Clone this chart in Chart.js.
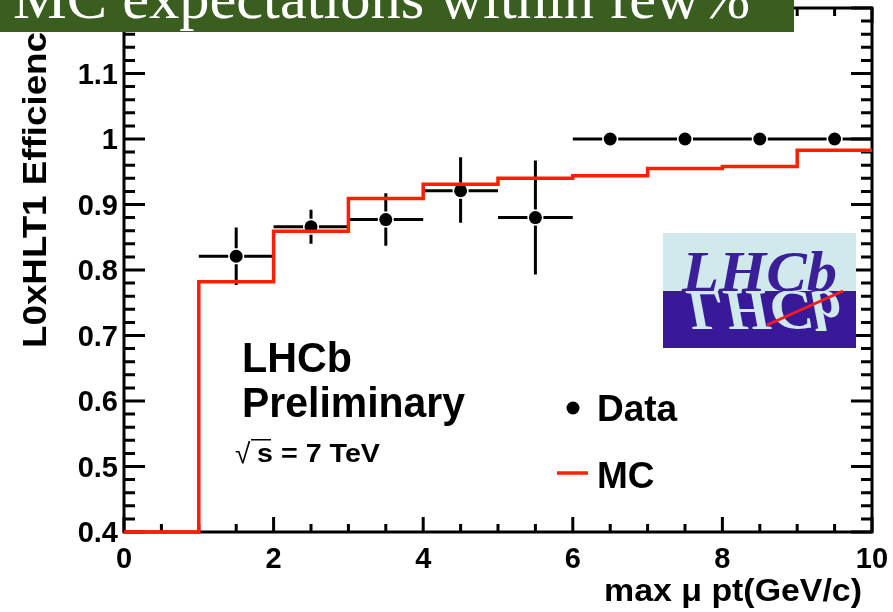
<!DOCTYPE html>
<html>
<head>
<meta charset="utf-8">
<script src="https://cdn.jsdelivr.net/npm/chart.js@4.4.0/dist/chart.umd.min.js"></script>
<style>
  html, body { margin: 0; padding: 0; background: #fff; }
  #wrap { width: 893px; height: 612px; }
</style>
</head>
<body>
<div id="wrap"><canvas id="eff_chart" width="893" height="612"></canvas></div>
<script>
// bin edges in max mu pt (GeV/c)
const binEdges = [0, 1, 2, 3, 4, 5, 6, 7, 8, 9, 10];
// MC efficiency, one value per bin
const mcEff = [0.400, 0.782, 0.859, 0.909, 0.931, 0.940, 0.944, 0.955, 0.958, 0.983];
// data points (bin centres) with asymmetric errors
const dataPt = [1.5, 2.5, 3.5, 4.5, 5.5, 6.5, 7.5, 8.5, 9.5];
const dataEff = [0.821, 0.866, 0.877, 0.921, 0.880, 1.0, 1.0, 1.0, 1.0];
const dataErrUp = [0.044, 0.026, 0.040, 0.051, 0.087, 0, 0, 0, 0];
const dataErrDown = [0.044, 0.026, 0.040, 0.049, 0.087, 0, 0, 0, 0];
const binHalfWidth = 0.5;

// axis tick labels
const xTickLabels = ['0', '2', '4', '6', '8', '10'];
const yTickLabels = ['0.4', '0.5', '0.6', '0.7', '0.8', '0.9', '1', '1.1'];

const SANS = '"Liberation Sans", Arial, Helvetica, sans-serif';
const SERIF = '"Liberation Serif", "DejaVu Serif", serif';

// step points for the MC histogram
const mcPoints = mcEff.map((v, i) => ({ x: binEdges[i], y: v }));
mcPoints.push({ x: binEdges[binEdges.length - 1], y: mcEff[mcEff.length - 1] });
const dataPoints = dataPt.map((p, i) => ({ x: p, y: dataEff[i] }));

// draw text squeezed/stretched horizontally to a given width
function fitText(ctx, text, x, y, font, width, align) {
    ctx.font = font;
    const w = ctx.measureText(text).width;
    const sx = width ? width / w : 1;
    ctx.save();
    ctx.translate(x, y);
    ctx.scale(sx, 1);
    ctx.textAlign = align || 'left';
    ctx.textBaseline = 'alphabetic';
    ctx.fillText(text, 0, 0);
    ctx.restore();
}

// frame with inward ticks, like a ROOT canvas
const axisFrame = {
    id: 'axisFrame',
    beforeDatasetsDraw(chart) {
        const { ctx, chartArea: a, scales: { x, y } } = chart;
        ctx.save();
        ctx.strokeStyle = '#000';
        ctx.lineWidth = 3;
        ctx.lineCap = 'square';
        ctx.strokeRect(a.left, a.top, a.right - a.left, a.bottom - a.top);
        ctx.lineCap = 'butt';
        ctx.beginPath();
        // x ticks: minor every 0.5, major every 2
        for (let v = 0; v <= 10.001; v += 0.5) {
            const px = x.getPixelForValue(v);
            const major = Math.abs(v / 2 - Math.round(v / 2)) < 1e-6;
            const len = major ? 15 : 8;
            ctx.moveTo(px, a.bottom); ctx.lineTo(px, a.bottom - len);
            ctx.moveTo(px, a.top); ctx.lineTo(px, a.top + len);
        }
        // y ticks: minor every 0.02, major every 0.1
        for (let k = 0; k <= 40; k++) {
            const v = 0.4 + k * 0.02;
            const py = y.getPixelForValue(v);
            const len = k % 5 === 0 ? 21 : 11;
            ctx.moveTo(a.left, py); ctx.lineTo(a.left + len, py);
            ctx.moveTo(a.right, py); ctx.lineTo(a.right - len, py);
        }
        ctx.stroke();

        ctx.fillStyle = '#000';
        ctx.font = 'bold 29px ' + SANS;
        ctx.textAlign = 'right';
        ctx.textBaseline = 'alphabetic';
        yTickLabels.forEach(t => {
            ctx.fillText(t, a.left - 6, y.getPixelForValue(parseFloat(t)) + 10);
        });
        ctx.textAlign = 'center';
        xTickLabels.forEach(t => {
            ctx.fillText(t, x.getPixelForValue(parseFloat(t)), 568);
        });
        ctx.restore();
    }
};

// error bars for the data points
const errorBars = {
    id: 'errorBars',
    beforeDatasetsDraw(chart) {
        const { ctx, scales: { x, y } } = chart;
        const gap = 8;
        ctx.save();
        ctx.strokeStyle = '#000';
        ctx.lineWidth = 3;
        ctx.beginPath();
        dataPt.forEach((pt, i) => {
            const px = x.getPixelForValue(pt);
            const py = y.getPixelForValue(dataEff[i]);
            const left = x.getPixelForValue(pt - binHalfWidth);
            const right = x.getPixelForValue(pt + binHalfWidth);
            const top = y.getPixelForValue(dataEff[i] + dataErrUp[i]);
            const bottom = y.getPixelForValue(dataEff[i] - dataErrDown[i]);
            ctx.moveTo(left, py); ctx.lineTo(px - gap, py);
            ctx.moveTo(px + gap, py); ctx.lineTo(right, py);
            if (py - top > gap) { ctx.moveTo(px, top); ctx.lineTo(px, py - gap); }
            if (bottom - py > gap) { ctx.moveTo(px, py + gap); ctx.lineTo(px, bottom); }
        });
        ctx.stroke();
        ctx.restore();
    }
};

function drawLogo(ctx) {
    const x0 = 663, y0 = 233, w = 193, h = 115, mid = 291;
    ctx.save();
    ctx.fillStyle = '#cfe9ec';
    ctx.fillRect(x0, y0, w, mid - y0);
    ctx.fillStyle = '#38199a';
    ctx.fillRect(x0, mid, w, y0 + h - mid);
    const font = 'italic bold 58px ' + SERIF;
    // upper word
    ctx.save();
    ctx.beginPath(); ctx.rect(x0, y0, w, mid - y0); ctx.clip();
    ctx.fillStyle = '#3a1f98';
    fitText(ctx, 'LHCb', 682, mid, font, 155);
    ctx.restore();
    // mirrored word
    ctx.save();
    ctx.beginPath(); ctx.rect(x0, mid, w, y0 + h - mid); ctx.clip();
    ctx.translate(4, 2 * mid);
    ctx.scale(1, -1);
    ctx.fillStyle = '#cfe9ec';
    fitText(ctx, 'LHCb', 682, mid, font, 155);
    ctx.restore();
    // red track
    ctx.strokeStyle = '#ff1a1a';
    ctx.lineWidth = 3;
    ctx.beginPath();
    ctx.moveTo(767, 325); ctx.lineTo(843, 291);
    ctx.stroke();
    ctx.restore();
}

// titles, labels, legend, logo, banner
const annotations = {
    id: 'annotations',
    afterDraw(chart) {
        const { ctx } = chart;
        ctx.save();
        ctx.fillStyle = '#000';

        // axis titles
        fitText(ctx, 'max \u03bc pt(GeV/c)', 862, 601, 'bold 32px ' + SANS, 258, 'right');
        ctx.save();
        ctx.translate(46, 348);
        ctx.rotate(-Math.PI / 2);
        ctx.font = 'bold 33px ' + SANS;
        const sy = 316 / ctx.measureText('L0xHLT1 Efficienc').width;
        ctx.scale(sy, 1);
        ctx.textAlign = 'left';
        ctx.fillText('L0xHLT1 Efficiency', 0, 0);
        ctx.restore();

        // experiment text
        fitText(ctx, 'LHCb', 242, 372, 'bold 42px ' + SANS, 110);
        fitText(ctx, 'Preliminary', 242, 417, 'bold 42px ' + SANS, 223);
        ctx.font = '28px ' + SANS;
        ctx.textAlign = 'left';
        ctx.fillText('\u221a', 235, 463);
        ctx.fillRect(251, 439, 20, 1.5);
        fitText(ctx, 's = 7 TeV', 257, 462, 'bold 25px ' + SANS, 123);

        // legend
        ctx.beginPath();
        ctx.arc(573, 408, 6.5, 0, Math.PI * 2);
        ctx.fill();
        fitText(ctx, 'Data', 597, 421, 'bold 37px ' + SANS, 0);
        ctx.strokeStyle = '#ff1e00';
        ctx.lineWidth = 3.5;
        ctx.beginPath();
        ctx.moveTo(557, 473); ctx.lineTo(588, 473);
        ctx.stroke();
        fitText(ctx, 'MC', 597, 488, 'bold 37px ' + SANS, 0);

        drawLogo(ctx);

        // slide banner over the top
        ctx.fillStyle = '#3a5e20';
        ctx.fillRect(0, 0, 794, 32);
        ctx.fillStyle = '#ffffff';
        fitText(ctx, 'MC expectations within few%', 13, 18, '60px ' + SERIF, 737);
        ctx.restore();
    }
};

const ctx = document.getElementById('eff_chart').getContext('2d');
new Chart(ctx, {
    type: 'scatter',
    data: {
        datasets: [
            {
                label: 'MC',
                type: 'line',
                data: mcPoints,
                borderColor: '#ff1e00',
                borderWidth: 3.5,
                stepped: 'before',
                pointRadius: 0,
                fill: false,
                clip: false,
                order: 0
            },
            {
                label: 'Data',
                data: dataPoints,
                pointRadius: 6.5,
                pointBackgroundColor: '#000',
                pointBorderColor: '#000',
                pointBorderWidth: 0,
                order: 1
            }
        ]
    },
    options: {
        responsive: false,
        animation: false,
        devicePixelRatio: 1,
        layout: { padding: { left: 124, top: 8, right: 21, bottom: 80 } },
        scales: {
            x: { type: 'linear', min: 0, max: 10, display: false },
            y: { type: 'linear', min: 0.4, max: 1.2, display: false }
        },
        plugins: {
            legend: { display: false },
            tooltip: { enabled: false }
        }
    },
    plugins: [axisFrame, errorBars, annotations]
});
</script>
</body>
</html>
